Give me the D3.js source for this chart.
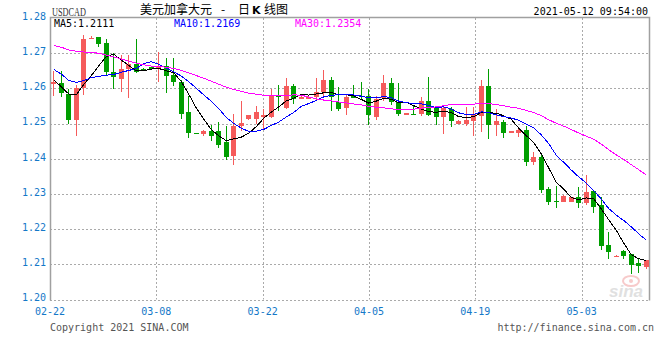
<!DOCTYPE html>
<html lang="zh-CN">
<head>
<meta charset="UTF-8">
<title>USDCAD 日K线图</title>
<script src="https://d3js.org/d3.v7.min.js"></script>
<style>
  body { margin: 0; background: #fff; }
  svg { display: block; }
  .mono { font-family: "DejaVu Sans Mono", "Liberation Mono", monospace; font-size: 10px; }
  .axis { fill: #1478c8; }
</style>
</head>
<body>
<svg id="chart" width="660" height="360"></svg>
<script>
// daily candles, 2021-02-22 .. 2021-05-12 (every calendar day)
const opens = [1.2613,1.2614,1.2584,1.2509,1.2600,1.2739,1.2746,1.2730,1.2647,1.2628,
  1.2654,1.2668,1.2656,1.2660,1.2654,1.2665,1.2637,1.2617,1.2532,1.2473,
  1.2469,1.2480,1.2480,1.2447,1.2407,1.2493,1.2514,1.2513,1.2518,1.2520,
  1.2580,1.2544,1.2608,1.2571,1.2570,1.2575,1.2590,1.2625,1.2562,1.2544,
  1.2580,1.2579,1.2577,1.2520,1.2573,1.2614,1.2560,1.2526,1.2528,1.2528,
  1.2563,1.2544,1.2518,1.2542,1.2500,1.2500,1.2506,1.2521,1.2608,1.2497,
  1.2505,1.2475,1.2473,1.2481,1.2392,1.2406,1.2314,1.2281,1.2278,1.2278,
  1.2290,1.2275,1.2307,1.2269,1.2155,1.2123,1.2138,1.2128,1.2104,1.2093];
const closes = [1.2619,1.2587,1.2511,1.2601,1.2739,1.2743,1.2725,1.2646,1.2632,1.2656,
  1.2668,1.2646,1.2650,1.2654,1.2665,1.2635,1.2617,1.2528,1.2472,1.2470,
  1.2478,1.2466,1.2440,1.2404,1.2494,1.2502,1.2523,1.2533,1.2523,1.2582,
  1.2576,1.2608,1.2570,1.2576,1.2575,1.2591,1.2625,1.2576,1.2542,1.2575,
  1.2574,1.2576,1.2523,1.2571,1.2614,1.2560,1.2527,1.2529,1.2525,1.2565,
  1.2523,1.2518,1.2544,1.2506,1.2508,1.2511,1.2527,1.2608,1.2497,1.2506,
  1.2472,1.2478,1.2481,1.2392,1.2406,1.2312,1.2278,1.2278,1.2294,1.2290,
  1.2275,1.2306,1.2264,1.2153,1.2135,1.2125,1.2125,1.2099,1.2094,1.2111];
const highs = [1.2648,1.2649,1.2599,1.2611,1.2751,1.2749,1.2746,1.2741,1.2701,1.2696,
  1.2696,1.2739,1.2657,1.2661,1.2703,1.2687,1.2687,1.2625,1.2578,1.2474,
  1.2483,1.2497,1.2505,1.2494,1.2527,1.2565,1.2525,1.2549,1.2542,1.2599,
  1.2611,1.2630,1.2613,1.2578,1.2577,1.2630,1.2652,1.2632,1.2604,1.2584,
  1.2611,1.2617,1.2597,1.2579,1.2637,1.2630,1.2614,1.2530,1.2549,1.2576,
  1.2633,1.2549,1.2549,1.2547,1.2509,1.2546,1.2546,1.2625,1.2656,1.2540,
  1.2511,1.2479,1.2487,1.2492,1.2420,1.2414,1.2321,1.2323,1.2296,1.2292,
  1.2319,1.2353,1.2311,1.2290,1.2193,1.2126,1.2141,1.2128,1.2117,1.2111];
const lows = [1.2577,1.2575,1.2500,1.2464,1.2582,1.2739,1.2718,1.2637,1.2597,1.2589,
  1.2573,1.2644,1.2649,1.2653,1.2617,1.2587,1.2606,1.2514,1.2458,1.2469,
  1.2466,1.2451,1.2430,1.2397,1.2383,1.2480,1.2511,1.2500,1.2483,1.2516,
  1.2535,1.2542,1.2556,1.2569,1.2569,1.2568,1.2577,1.2535,1.2537,1.2523,
  1.2574,1.2570,1.2497,1.2511,1.2565,1.2554,1.2521,1.2525,1.2523,1.2521,
  1.2521,1.2495,1.2471,1.2489,1.2499,1.2492,1.2466,1.2475,1.2457,1.2466,
  1.2458,1.2474,1.2461,1.2378,1.2383,1.2302,1.2269,1.2261,1.2277,1.2277,
  1.2261,1.2269,1.2247,1.2141,1.2115,1.2122,1.2114,1.2072,1.2074,1.2086];
// closes of the 29 days before 02-22, only used for the moving averages
const priorCloses = [1.2735,1.2745,1.2705,1.2810,1.2780,1.2795,1.2795,1.2800,1.2825,1.2865,
  1.2800,1.2795,1.2760,1.2700,1.2700,1.2720,1.2690,1.2690,1.2700,1.2708,
  1.2720,1.2690,1.2660,1.2688,1.2657,1.2691,1.2611,1.2615,1.2589];

const yTicks = [1.20, 1.21, 1.22, 1.23, 1.24, 1.25, 1.26, 1.27, 1.28];
const xTickLabels = ["02-22", "03-08", "03-22", "04-05", "04-19", "05-03"];
const maPeriods = [5, 10, 30];
const maColors = ["#000000", "#0000ff", "#ff00ff"];

const days = d3.timeDay.range(new Date(2021, 1, 22), new Date(2021, 4, 13));
const fmtDay = d3.timeFormat("%m-%d");

const svg = d3.select("#chart");
const plotL = 50, plotR = 650, plotT = 18, plotB = 299.5;

const y = d3.scaleLinear().domain([1.20, 1.28]).range([plotB, plotT]);
const xb = d3.scaleBand().domain(d3.range(closes.length)).range([plotL, plotR]);
const xg = d3.scaleLinear().domain([0, closes.length - 1]).range([plotL, plotR]);

// horizontal grid
svg.append("g").selectAll("line")
  .data(yTicks.slice(0, -1))
  .join("line")
  .attr("x1", plotL).attr("x2", plotR)
  .attr("y1", d => Math.round(y(d)) + 0.5).attr("y2", d => Math.round(y(d)) + 0.5)
  .attr("stroke", "#aaa").attr("stroke-dasharray", "2,2");

// vertical grid at the labelled dates
const tickIdx = xTickLabels.map(t => days.findIndex(d => fmtDay(d) === t));
svg.append("g").selectAll("line")
  .data(tickIdx.slice(1))
  .join("line")
  .attr("x1", d => Math.round(xg(d)) + 0.5).attr("x2", d => Math.round(xg(d)) + 0.5)
  .attr("y1", plotT).attr("y2", plotB)
  .attr("stroke", "#aaa").attr("stroke-dasharray", "2,2");

// frame
svg.append("path")
  .attr("d", `M${plotL + 0.5},${plotB + 1}V${plotT - 0.5}H${plotR - 0.5}V${plotB + 1}`)
  .attr("fill", "none").attr("stroke", "#a0a0a0").attr("stroke-width", 1.5);

// watermark
const wm = svg.append("g").attr("opacity", 0.55);
wm.append("ellipse").attr("cx", 631).attr("cy", 281).attr("rx", 8).attr("ry", 5)
  .attr("fill", "none").attr("stroke", "#f2a0a0").attr("stroke-width", 2);
wm.append("circle").attr("cx", 631).attr("cy", 281).attr("r", 2).attr("fill", "#f2a0a0");
wm.append("text").attr("x", 609).attr("y", 297)
  .attr("font-family", "Liberation Sans, Arial, sans-serif")
  .attr("font-size", 17).attr("font-weight", "bold").attr("font-style", "italic")
  .attr("fill", "#c8c8c8").text("sina");

// candles
const up = "#f55b5b", down = "#009e00";
const candles = svg.append("g").attr("shape-rendering", "crispEdges")
  .selectAll("g").data(closes).join("g");
candles.append("rect")
  .attr("x", (d, i) => xb(i) + 3).attr("width", 1)
  .attr("y", (d, i) => y(highs[i]))
  .attr("height", (d, i) => Math.max(1, y(lows[i]) - y(highs[i])))
  .attr("fill", (d, i) => d >= opens[i] ? up : down);
candles.append("rect")
  .attr("x", (d, i) => xb(i) + 1).attr("width", 5)
  .attr("y", (d, i) => y(Math.max(d, opens[i])))
  .attr("height", (d, i) => Math.max(1.2, Math.abs(y(d) - y(opens[i]))))
  .attr("fill", (d, i) => d >= opens[i] ? up : down);

// moving averages
const allCloses = priorCloses.concat(closes);
const off = priorCloses.length;
const maSeries = maPeriods.map(n =>
  closes.map((c, i) => d3.mean(allCloses.slice(off + i - n + 1, off + i + 1))));

const line = d3.line().x((d, i) => xb(i) + xb.bandwidth() / 2).y(d => y(d));
svg.append("g").selectAll("path")
  .data(maSeries)
  .join("path")
  .attr("d", line)
  .attr("fill", "none")
  .attr("stroke", (d, i) => maColors[i])
  .attr("stroke-width", 1)
  .attr("shape-rendering", "crispEdges");

// legend
const legendX = [54, 174, 295];
svg.append("g").selectAll("text")
  .data(maSeries)
  .join("text")
  .attr("class", "mono")
  .attr("x", (d, i) => legendX[i]).attr("y", 26.5)
  .attr("fill", (d, i) => maColors[i])
  .text((d, i) => `MA${maPeriods[i]}:${d[d.length - 1].toFixed(4)}`);

// y labels
svg.append("g").selectAll("text")
  .data(yTicks)
  .join("text")
  .attr("class", "mono axis")
  .attr("x", 46).attr("y", d => y(d) + 1.8)
  .attr("text-anchor", "end")
  .text(d => d.toFixed(2));

// x labels
svg.append("g").selectAll("text")
  .data(tickIdx)
  .join("text")
  .attr("class", "mono axis")
  .attr("x", d => xg(d)).attr("y", 315)
  .attr("text-anchor", "middle")
  .text(d => fmtDay(days[d]));

// header
svg.append("text")
  .attr("x", 52).attr("y", 15.5)
  .attr("font-family", "Liberation Serif, serif").attr("font-size", 13)
  .attr("textLength", 34).attr("lengthAdjust", "spacingAndGlyphs")
  .attr("fill", "#333").text("USDCAD");

const title = svg.append("text")
  .attr("y", 14)
  .attr("font-family", "Noto Sans CJK SC, sans-serif").attr("font-size", 12)
  .attr("fill", "#000");
title.append("tspan").attr("x", 140).text("美元加拿大元");
title.append("tspan").attr("x", 221).text("-");
title.append("tspan").attr("x", 238).text("日");
title.append("tspan").attr("x", 252).attr("font-weight", "bold").attr("font-family", "DejaVu Sans, sans-serif").attr("font-size", 11).text("K");
title.append("tspan").attr("x", 264).text("线图");

svg.append("text")
  .attr("class", "mono").attr("x", 648).attr("y", 15)
  .attr("text-anchor", "end").attr("fill", "#000")
  .text("2021-05-12 09:54:00");

// footer
svg.append("text")
  .attr("class", "mono").attr("x", 50).attr("y", 331)
  .attr("fill", "#555").text("Copyright 2021 SINA.COM");
svg.append("text")
  .attr("class", "mono").attr("x", 654).attr("y", 331)
  .attr("text-anchor", "end").attr("fill", "#555")
  .text("http://finance.sina.com.cn");
</script>
</body>
</html>
